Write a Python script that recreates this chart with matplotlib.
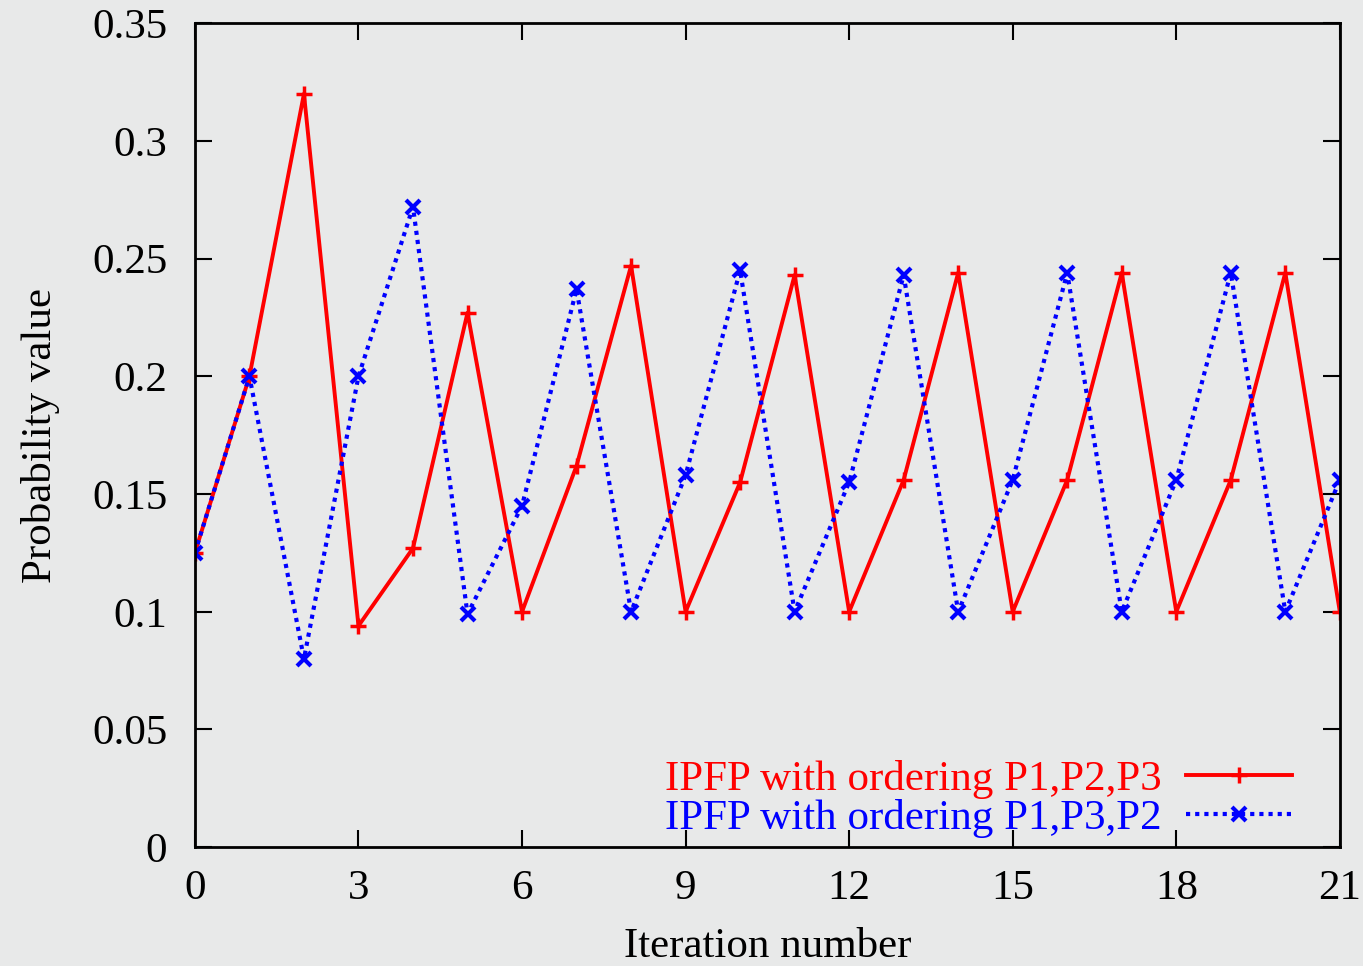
import numpy as np
import matplotlib.pyplot as plt

# values
iterations = list(range(22))
order_123 = [0.125, 0.200, 0.320, 0.094, 0.127, 0.227, 0.100, 0.162, 0.247, 0.100, 0.155,
             0.243, 0.100, 0.156, 0.244, 0.100, 0.156, 0.244, 0.100, 0.156, 0.244, 0.100]
order_132 = [0.125, 0.200, 0.080, 0.200, 0.272, 0.099, 0.145, 0.237, 0.100, 0.158, 0.245,
             0.100, 0.155, 0.243, 0.100, 0.156, 0.244, 0.100, 0.156, 0.244, 0.100, 0.156]
labels = ["IPFP with ordering P1,P2,P3", "IPFP with ordering P1,P3,P2"]
xticks = [0, 3, 6, 9, 12, 15, 18, 21]
yticks = [0, 0.05, 0.1, 0.15, 0.2, 0.25, 0.3, 0.35]

plt.rcParams["font.family"] = ["Liberation Serif", "DejaVu Serif"]
plt.rcParams["font.size"] = 31

bg = "#e8e9e9"
fig = plt.figure(figsize=(13.63, 9.66), dpi=100, facecolor=bg)
ax = fig.add_axes([0.143, 0.123, 0.840, 0.853])
ax.set_facecolor(bg)

ax.plot(iterations, order_123, color="#ff0000", lw=2.8, marker="+", ms=12, mew=2.5,
        label=labels[0])
ax.plot(iterations, order_132, color="#0000ff", lw=3, ls=(0, (1, 1.2)), marker="x",
        ms=10, mew=3, label=labels[1])

ax.set_xlim(0, 21)
ax.set_ylim(0, 0.35)
ax.set_xticks(xticks)
ax.set_yticks(yticks)
ax.set_yticklabels(["0", "0.05", "0.1", "0.15", "0.2", "0.25", "0.3", "0.35"])
ax.tick_params(direction="in", length=12, width=1.5, top=True, right=True)
ax.tick_params(axis="x", pad=16)
ax.tick_params(axis="y", pad=20)
for s in ax.spines.values():
    s.set_linewidth(2)

ax.set_xlabel("Iteration number", labelpad=14)
ax.set_ylabel("Probability value", labelpad=23)

leg = ax.legend(loc="lower right", frameon=False, markerfirst=False, numpoints=1,
                handlelength=2.45, handletextpad=0.58, labelspacing=0.0,
                borderaxespad=0.0, bbox_to_anchor=(0.973, -0.0096))
for txt, c in zip(leg.get_texts(), ["#ff0000", "#0000ff"]):
    txt.set_color(c)

fig.savefig("out.png", dpi=100, facecolor=bg)
